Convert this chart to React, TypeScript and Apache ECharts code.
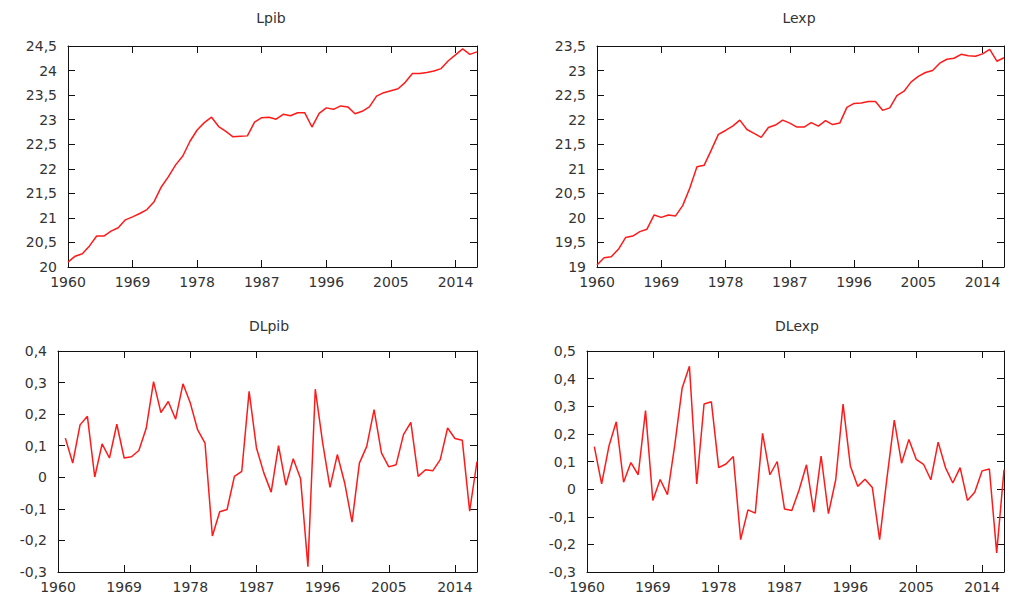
import React, { useEffect, useRef } from "react";
import * as echarts from "echarts";

const years = [
  1960, 1961, 1962, 1963, 1964, 1965, 1966, 1967, 1968, 1969,
  1970, 1971, 1972, 1973, 1974, 1975, 1976, 1977, 1978, 1979,
  1980, 1981, 1982, 1983, 1984, 1985, 1986, 1987, 1988, 1989,
  1990, 1991, 1992, 1993, 1994, 1995, 1996, 1997, 1998, 1999,
  2000, 2001, 2002, 2003, 2004, 2005, 2006, 2007, 2008, 2009,
  2010, 2011, 2012, 2013, 2014, 2015, 2016, 2017,
];

const lpib = [
  20.10, 20.22, 20.27, 20.43, 20.63, 20.63, 20.73, 20.80, 20.96, 21.02,
  21.09, 21.17, 21.33, 21.63, 21.84, 22.08, 22.26, 22.56, 22.79, 22.94,
  23.05, 22.86, 22.76, 22.65, 22.66, 22.67, 22.95, 23.04, 23.05, 23.01,
  23.11, 23.08, 23.14, 23.14, 22.85, 23.13, 23.24, 23.21, 23.28, 23.26,
  23.12, 23.17, 23.26, 23.48, 23.55, 23.59, 23.63, 23.76, 23.94, 23.94,
  23.96, 23.99, 24.04, 24.20, 24.32, 24.44, 24.33, 24.38,
];

const lexp = [
  19.04, 19.19, 19.21, 19.36, 19.60, 19.63, 19.72, 19.77, 20.06, 20.01,
  20.06, 20.04, 20.25, 20.61, 21.04, 21.07, 21.38, 21.70, 21.78, 21.87,
  21.99, 21.80, 21.72, 21.64, 21.84, 21.89, 21.99, 21.93, 21.85, 21.85,
  21.94, 21.87, 21.98, 21.90, 21.93, 22.25, 22.33, 22.34, 22.37, 22.37,
  22.19, 22.24, 22.49, 22.58, 22.77, 22.88, 22.96, 23.00, 23.15, 23.23,
  23.25, 23.33, 23.30, 23.29, 23.34, 23.43, 23.19, 23.26,
];

// differences start in 1961
const dlpib = [
  0.124, 0.045, 0.166, 0.193, 0.001, 0.106, 0.061, 0.168, 0.061, 0.065,
  0.085, 0.155, 0.303, 0.205, 0.240, 0.184, 0.296, 0.235, 0.150, 0.108,
  -0.186, -0.109, -0.102, 0.003, 0.019, 0.272, 0.093, 0.014, -0.047, 0.100,
  -0.025, 0.059, -0.005, -0.283, 0.279, 0.110, -0.032, 0.072, -0.018, -0.142,
  0.045, 0.098, 0.214, 0.077, 0.033, 0.040, 0.135, 0.174, 0.003, 0.024,
  0.021, 0.056, 0.156, 0.123, 0.117, -0.107, 0.050,
];

const dlexp = [
  0.154, 0.019, 0.156, 0.244, 0.025, 0.096, 0.052, 0.284, -0.041, 0.035,
  -0.020, 0.160, 0.365, 0.445, 0.019, 0.308, 0.316, 0.078, 0.091, 0.118,
  -0.183, -0.075, -0.087, 0.202, 0.052, 0.100, -0.072, -0.077, -0.002, 0.088,
  -0.083, 0.120, -0.089, 0.034, 0.308, 0.084, 0.010, 0.036, 0.006, -0.183,
  0.040, 0.250, 0.094, 0.180, 0.108, 0.090, 0.034, 0.170, 0.078, 0.022,
  0.078, -0.041, -0.011, 0.066, 0.073, -0.231, 0.070,
];

const titles = ["Lpib", "Lexp", "DLpib", "DLexp"];

const FONT = "'DejaVu Sans', Verdana, sans-serif";
const TEXT = "#333333";
const AXIS = "#111111";

const panels = [
  { title: titles[0], x: years, y: lpib, min: 20, max: 24.5, interval: 0.5, left: 68, top: 46, width: 409, height: 221, tx: 271, ty: 18 },
  { title: titles[1], x: years, y: lexp, min: 19, max: 23.5, interval: 0.5, left: 597, top: 46, width: 407, height: 221, tx: 799, ty: 18 },
  { title: titles[2], x: years.slice(1), y: dlpib, min: -0.3, max: 0.4, interval: 0.1, left: 58, top: 351, width: 419, height: 221, tx: 269, ty: 326 },
  { title: titles[3], x: years.slice(1), y: dlexp, min: -0.3, max: 0.5, interval: 0.1, left: 587, top: 351, width: 417, height: 221, tx: 797, ty: 326 },
];

const fmt = (v: number) => String(Math.round(v * 10) / 10).replace(".", ",");

export default function App() {
  const ref = useRef<HTMLDivElement>(null);

  useEffect(() => {
    if (!ref.current) return;
    const chart = echarts.init(ref.current, undefined, { renderer: "svg" });

    const lineStyle = { color: AXIS, width: 1 };
    const grid: any[] = [];
    const xAxis: any[] = [];
    const yAxis: any[] = [];
    const series: any[] = [];
    const graphic: any[] = [];

    panels.forEach((p, i) => {
      grid.push({ left: p.left, top: p.top, width: p.width, height: p.height, containLabel: false });
      const xBase = {
        gridIndex: i,
        type: "value",
        min: 1960,
        max: 2017,
        interval: 9,
        axisLine: { show: true, onZero: false, lineStyle },
        axisTick: { show: true, inside: true, length: 7, lineStyle },
        splitLine: { show: false },
      };
      xAxis.push({
        ...xBase,
        position: "bottom",
        axisLabel: {
          show: true,
          margin: 8,
          showMaxLabel: false,
          color: TEXT,
          fontFamily: FONT,
          fontSize: 14,
          formatter: (v: number) => String(v),
        },
      });
      xAxis.push({ ...xBase, position: "top", axisLabel: { show: false } });

      const yBase = {
        gridIndex: i,
        type: "value",
        min: p.min,
        max: p.max,
        interval: p.interval,
        axisLine: { show: true, onZero: false, lineStyle },
        axisTick: { show: true, inside: true, length: 7, lineStyle },
        splitLine: { show: false },
      };
      yAxis.push({
        ...yBase,
        position: "left",
        axisLabel: {
          show: true,
          margin: 11,
          color: TEXT,
          fontFamily: FONT,
          fontSize: 14,
          formatter: fmt,
        },
      });
      yAxis.push({ ...yBase, position: "right", axisLabel: { show: false } });

      series.push({
        type: "line",
        name: p.title,
        xAxisIndex: 2 * i,
        yAxisIndex: 2 * i,
        data: p.x.map((yr, k) => [yr, p.y[k]]),
        showSymbol: false,
        symbol: "none",
        silent: true,
        lineStyle: { color: "#ff1a1a", width: 1.5 },
      });

      graphic.push({
        type: "text",
        x: p.tx,
        y: p.ty,
        style: {
          text: p.title,
          textAlign: "center",
          textVerticalAlign: "middle",
          fill: TEXT,
          font: `14px ${FONT}`,
        },
      });
    });

    chart.setOption({
      animation: false,
      backgroundColor: "#ffffff",
      grid,
      xAxis,
      yAxis,
      series,
      graphic,
    });

    return () => chart.dispose();
  }, []);

  return (
    <div
      ref={ref}
      style={{ position: "fixed", left: 0, top: 0, width: 1009, height: 596, background: "#fff" }}
    />
  );
}
